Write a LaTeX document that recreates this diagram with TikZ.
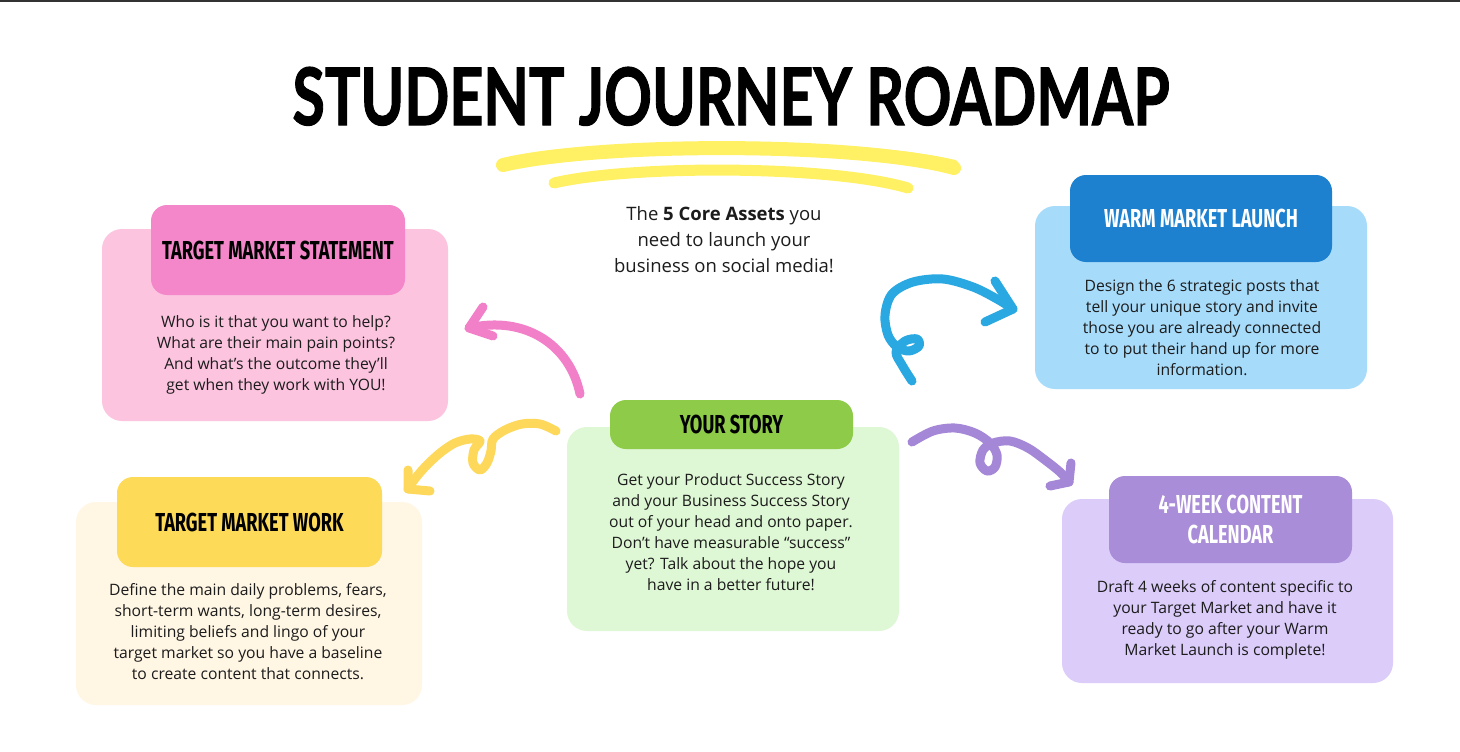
\documentclass[tikz,border=0pt]{standalone}
\usepackage{fontspec}
\usepackage{graphicx}
\setmainfont{Open Sans}
\newfontfamily\titlefont[FakeBold=1.5]{Lato}
\newfontfamily\hfont[FakeStretch=0.70]{Fira Sans}
\definecolor{topline}{RGB}{50,50,50}
\definecolor{bodytext}{RGB}{28,28,28}
\definecolor{brush}{RGB}{255,240,100}
\definecolor{pinkL}{RGB}{252,196,223}
\definecolor{pinkH}{RGB}{243,135,202}
\definecolor{pinkA}{RGB}{242,128,200}
\definecolor{yelL}{RGB}{255,246,228}
\definecolor{yelH}{RGB}{253,218,88}
\definecolor{yelA}{RGB}{253,216,90}
\definecolor{grnL}{RGB}{222,247,212}
\definecolor{grnH}{RGB}{141,203,72}
\definecolor{bluL}{RGB}{167,219,250}
\definecolor{bluH}{RGB}{29,129,207}
\definecolor{bluA}{RGB}{41,168,225}
\definecolor{purL}{RGB}{219,204,250}
\definecolor{purH}{RGB}{170,141,216}
\definecolor{purA}{RGB}{165,135,215}
\begin{document}
\begin{tikzpicture}[x=1pt,y=-1pt,
  outerbox/.style={rounded corners=20pt, inner sep=0pt, draw=none},
  headbox/.style={rounded corners=16pt, inner sep=0pt, draw=none, align=center,
    font=\hfont\bfseries\fontsize{26}{30}\selectfont},
  bodytxt/.style={font=\fontsize{15.7}{21}\selectfont, align=center, text=bodytext, inner sep=0pt},
  curve/.style={line width=9pt, line cap=round, line join=round},
  brushline/.style={brush, line cap=round}]
\useasboundingbox (0,0) rectangle (1460,752);
\fill[white] (0,0) rectangle (1460,752);
\fill[topline] (0,0) rectangle (1460,2.5);

% title
\node[inner sep=0pt, anchor=base] (title) at (731,125)
  {\resizebox{877pt}{58pt}{\titlefont\bfseries STUDENT JOURNEY ROADMAP}};
\draw[brushline, line width=14pt] (503,165) .. controls (600,142) and (860,142) .. (954,168);
\draw[brushline, line width=6pt] (510,160) .. controls (600,140) and (860,140) .. (955,163);
\draw[brushline, line width=11pt] (554,183) .. controls (630,165) and (830,165) .. (908,188);

\node[font=\fontsize{18.5}{26}\selectfont, align=center, text=bodytext, inner sep=0pt] (intro) at (724,240)
  {The \textbf{5 Core Assets} you\\need to launch your\\business on social media!};

% Target Market Statement
\node[outerbox, fill=pinkL, minimum width=346pt, minimum height=192pt] (tmsO) at (275,325) {};
\node[headbox, fill=pinkH, minimum width=254pt, minimum height=90pt, text=black] (tmsH) at (278,250) {TARGET MARKET STATEMENT};
\node[bodytxt] (tmsB) at (276,355) {Who is it that you want to help?\\What are their main pain points?\\And what’s the outcome they’ll\\get when they work with YOU!};

% Target Market Work
\node[outerbox, fill=yelL, minimum width=346pt, minimum height=203pt] (tmwO) at (249,603.5) {};
\node[headbox, fill=yelH, minimum width=265pt, minimum height=90pt, text=black] (tmwH) at (249.5,522) {TARGET MARKET WORK};
\node[bodytxt] (tmwB) at (248,632) {Define the main daily problems, fears,\\short-term wants, long-term desires,\\limiting beliefs and lingo of your\\target market so you have a baseline\\to create content that connects.};

% Your Story
\node[outerbox, fill=grnL, minimum width=332pt, minimum height=204pt] (ysO) at (733,529) {};
\node[headbox, fill=grnH, minimum width=243pt, minimum height=49pt, text=black] (ysH) at (731.5,424.5) {YOUR STORY};
\node[bodytxt] (ysB) at (731,532) {Get your Product Success Story\\and your Business Success Story\\out of your head and onto paper.\\Don’t have measurable “success”\\yet? Talk about the hope you\\have in a better future!};

% Warm Market Launch
\node[outerbox, fill=bluL, minimum width=332pt, minimum height=183pt] (wmlO) at (1201,297.5) {};
\node[headbox, fill=bluH, minimum width=262pt, minimum height=87pt, text=white] (wmlH) at (1201,218.5) {WARM MARKET LAUNCH};
\node[bodytxt] (wmlB) at (1202,328) {Design the 6 strategic posts that\\tell your unique story and invite\\those you are already connected\\to to put their hand up for more\\information.};

% 4-Week Content Calendar
\node[outerbox, fill=purL, minimum width=331pt, minimum height=184pt] (wccO) at (1227.5,591) {};
\node[headbox, fill=purH, minimum width=243pt, minimum height=87pt, text=white] (wccH) at (1230.5,519.5) {4-WEEK CONTENT\\CALENDAR};
\node[bodytxt] (wccB) at (1225,620) {Draft 4 weeks of content specific to\\your Target Market and have it\\ready to go after your Warm\\Market Launch is complete!};

% pink arrow
\coordinate (pS) at (580,394);
\coordinate (pT) at (469,328);
\draw[curve, pinkA] (pS) .. controls (570,345) and (525,315) .. (pT);
\draw[curve, pinkA] (483,307) -- (pT) -- (493,336);

% yellow arrow
\coordinate (yS) at (556,431);
\coordinate (yT) at (408,489);
\draw[curve, yelA] plot[smooth, tension=0.55] coordinates {(yS) (540,424) (522,424) (505,430) (493,439) (491,451) (487,463) (480,470) (473,463) (474,450) (480,441) (470,439) (455,443) (440,453) (425,467) (414,480) (yT)};
\draw[curve, yelA] (408,470) -- (yT) -- (430,491);

% blue arrow
\coordinate (bS) at (912,381);
\coordinate (bT) at (1013,309);
\draw[curve, bluA] plot[smooth, tension=0.55] coordinates {(bS) (902,365) (896,352) (905,341) (917,339) (919,346) (909,351) (897,347) (888,335) (885,315) (892,294) (913,282) (943,279) (973,287) (997,299) (bT)};
\draw[curve, bluA] (995,281) -- (bT) -- (985,322);

% purple arrow
\coordinate (uS) at (912,442);
\coordinate (uT) at (1069,482);
\draw[curve, purA] plot[smooth, tension=0.55] coordinates {(uS) (933,431) (955,428) (975,433) (990,443) (997,455) (995,467) (987,471) (980,463) (983,450) (993,443) (1010,441) (1028,448) (1045,460) (1060,472) (uT)};
\draw[curve, purA] (1071,463) -- (uT) -- (1050,486);
\end{tikzpicture}
\end{document}
